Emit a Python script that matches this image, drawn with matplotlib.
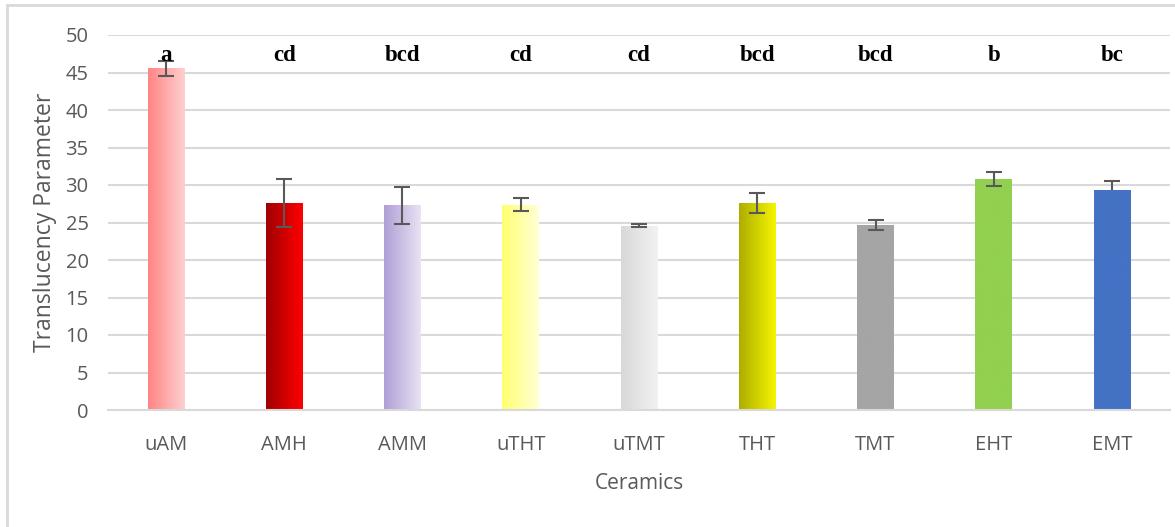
"""Translucency parameter per ceramic, with Tukey letters (Excel-style bar chart)."""

import matplotlib
matplotlib.use("Agg")
import matplotlib.pyplot as plt
import numpy as np
from matplotlib.colors import LinearSegmentedColormap
from matplotlib.patches import Rectangle

categories = ["uAM", "AMH", "AMM", "uTHT", "uTMT", "THT", "TMT", "EHT", "EMT"]
means = [45.55, 27.6, 27.3, 27.4, 24.6, 27.6, 24.7, 30.8, 29.35]
errors = [1.05, 3.2, 2.5, 0.9, 0.25, 1.35, 0.65, 0.9, 1.25]
letters = ["a", "cd", "bcd", "cd", "cd", "bcd", "bcd", "b", "bc"]
yticks = [0, 5, 10, 15, 20, 25, 30, 35, 40, 45, 50]

# left -> right gradient colours for each bar (same colour twice = solid)
bar_colors = [
    ("#FF8585", "#FFCFCF"),
    ("#A00000", "#FF0000"),
    ("#B09ED6", "#E9E3F3"),
    ("#FFFF70", "#FFFFD6"),
    ("#D8D8D8", "#F2F2F2"),
    ("#ADAD00", "#F5F500"),
    ("#A5A5A5", "#A5A5A5"),
    ("#92D050", "#92D050"),
    ("#4472C4", "#4472C4"),
]

plt.rcParams.update({
    "font.family": ["Open Sans", "DejaVu Sans"],
    "font.size": 14,
})

W, H = 1175, 527
fig = plt.figure(figsize=(W / 100, H / 100), dpi=100)
ax = fig.add_axes([108 / W, 1 - 410 / H, (1170 - 108) / W, (410 - 35) / H])

# outer chart border (Excel chart area)
fig.patches.append(Rectangle((7 / W, -0.1), 1.2, 1 - 5 / H + 0.1, transform=fig.transFigure,
                             fill=False, edgecolor="#D9D9D9", lw=2))

x = np.arange(len(categories))
width = 0.31
bars = ax.bar(x, means, width=width, color="none", edgecolor="none", zorder=2)

grad = np.linspace(0, 1, 256).reshape(1, -1)
for b, (c0, c1) in zip(bars, bar_colors):
    cmap = LinearSegmentedColormap.from_list("g", [c0, c1])
    x0, y0 = b.get_x(), b.get_y()
    im = ax.imshow(grad, cmap=cmap, aspect="auto", zorder=2,
                   extent=[x0, x0 + b.get_width(), y0, y0 + b.get_height()])
    im.set_clip_path(b)

for i, (m, e) in enumerate(zip(means, errors)):
    z = 1.5 if categories[i] == "EMT" else 3
    ax.errorbar(x[i], m, yerr=e, fmt="none", ecolor="#595959", elinewidth=1.5,
                capsize=6, capthick=1.5, zorder=z)

for i, t in enumerate(letters):
    ax.text(x[i], 47.3, t, ha="center", va="center", fontsize=16.5, fontweight="bold",
            family=["Liberation Serif", "DejaVu Serif"], color="black")

ax.set_xlim(-0.49, 8.49)
ax.set_ylim(0, 50)
ax.set_yticks(yticks)
ax.set_xticks(x)
ax.set_xticklabels(categories)
ax.grid(True, axis="y", color="#D9D9D9", lw=1.5, zorder=0)
ax.set_axisbelow(True)
for s in ["top", "right", "left"]:
    ax.spines[s].set_visible(False)
ax.spines["bottom"].set_color("#D9D9D9")
ax.spines["bottom"].set_linewidth(1.5)
ax.tick_params(axis="both", length=0, colors="#595959", labelsize=14.5)
ax.tick_params(axis="y", pad=14)
ax.tick_params(axis="x", pad=18)

ax.set_xlabel("Ceramics", color="#595959", fontsize=15, labelpad=13)
ax.set_ylabel("Translucency Parameter", color="#595959", fontsize=16.5, labelpad=6)

fig.savefig("out.png", dpi=100)
